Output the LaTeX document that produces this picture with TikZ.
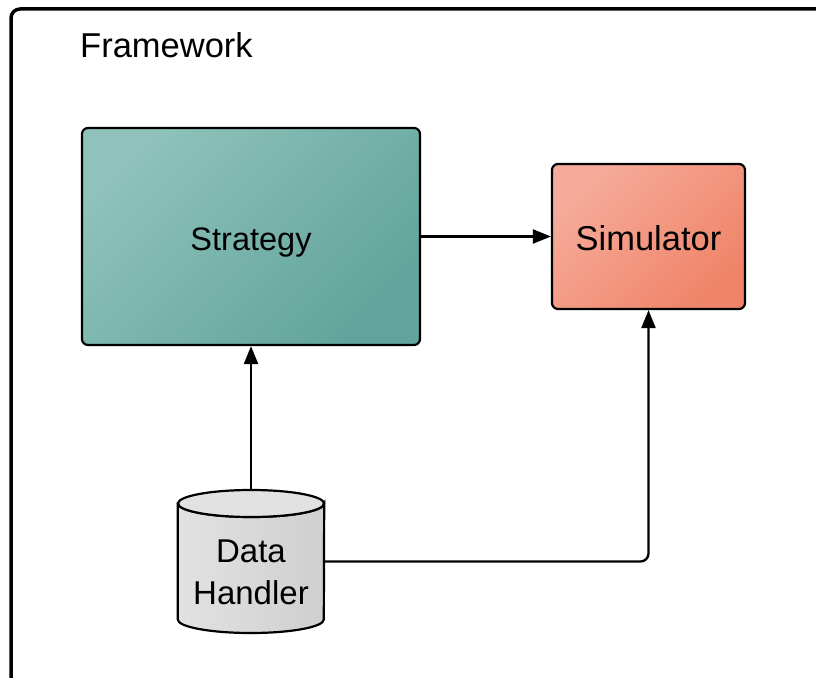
\documentclass[tikz,border=0pt]{standalone}
\usepackage{fontspec}
\setmainfont{Liberation Sans}
\usetikzlibrary{arrows.meta}
\definecolor{tealA}{HTML}{8EC2BA}
\definecolor{tealB}{HTML}{62A49B}
\definecolor{salmonA}{HTML}{F6AB9A}
\definecolor{salmonB}{HTML}{EF8468}
\definecolor{greyA}{HTML}{E2E2E2}
\definecolor{greyB}{HTML}{CFCFCF}
\begin{document}
\begin{tikzpicture}[x=1pt,y=-1pt,
  lbl/.style={font=\fontsize{34.5}{42}\selectfont, text=black},
  blockbox/.style={draw=black, line width=2.2pt, rounded corners=6pt, lbl, align=center,
                   text height=30pt, text depth=2pt},
  conn/.style={line width=2.3pt, -{Triangle[length=18pt,width=14pt]}}]
  \useasboundingbox (0,0) rectangle (816,677);
  \clip (0,0) rectangle (816,677);

  % outer framework container (runs past the page edges)
  \draw[line width=3.5pt, rounded corners=9pt] (11,9) rectangle (840,700);
  \node[lbl, anchor=base west, inner sep=0pt] (fw) at (80,58) {Framework};

  % strategy and simulator blocks
  \node[blockbox, font=\fontsize{32.5}{40}\selectfont, minimum width=338pt, minimum height=217pt,
        left color=tealA, right color=tealB, shading angle=45] (strat) at (251,236.5) {Strategy};
  \node[blockbox, minimum width=193pt, minimum height=145pt,
        left color=salmonA, right color=salmonB, shading angle=45] (sim) at (648.5,236.5) {Simulator};

  % data handler cylinder
  \node[lbl, minimum width=146pt, minimum height=143pt, inner sep=0pt] (dh) at (251,561.5) {};
  \begin{scope}[line width=2.2pt]
    \shade[left color=greyA, right color=greyB, draw=black]
      (dh.west |- 0,503.5) -- (dh.west |- 0,619.5)
      arc[start angle=180, end angle=360, x radius=73pt, y radius=13.5pt]
      -- (dh.east |- 0,503.5)
      arc[start angle=0, end angle=-180, x radius=73pt, y radius=13.5pt] -- cycle;
    \filldraw[fill=greyA, draw=black] (251,503.5) ellipse[x radius=73pt, y radius=13.5pt];
  \end{scope}
  \node[lbl, font=\fontsize{33}{42}\selectfont, align=center, inner sep=0pt] (dhtext) at (251,572) {Data\\Handler};

  % connectors
  \draw[conn] (strat.east) -- (sim.west);
  \draw[conn] (dh.north) -- (strat.south);
  \draw[conn, rounded corners=8pt] (dh.east) -| (sim.south);
\end{tikzpicture}
\end{document}
